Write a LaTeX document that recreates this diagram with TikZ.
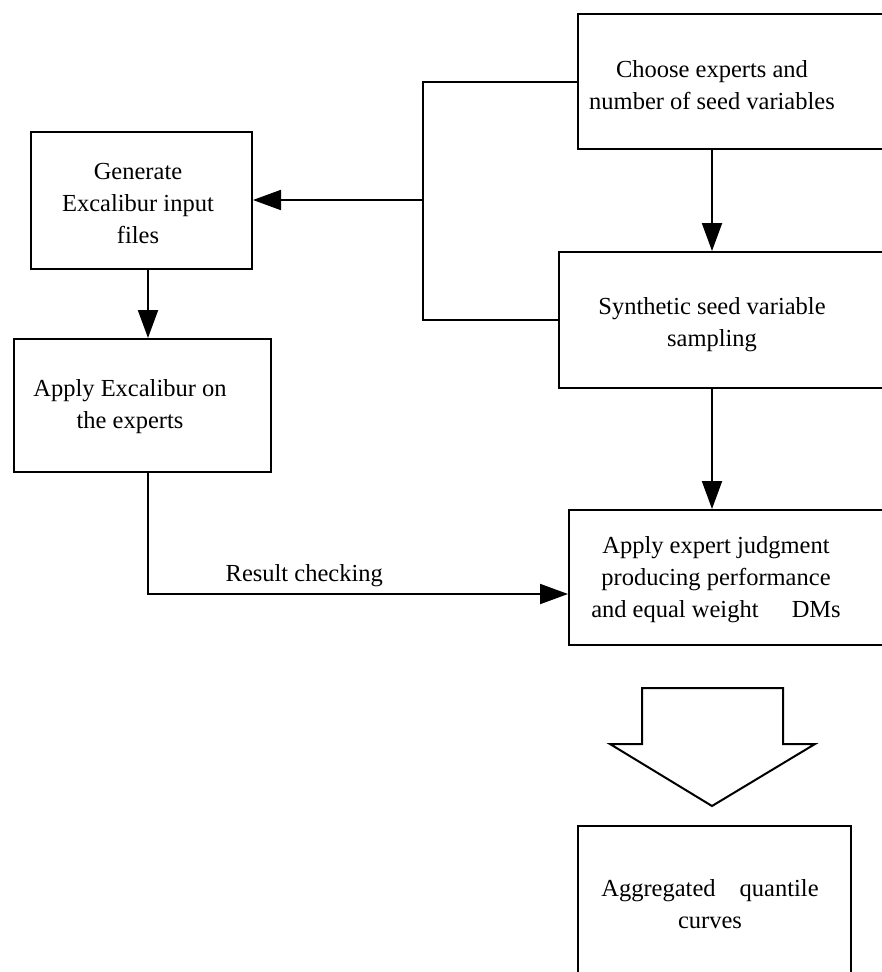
\documentclass[tikz,border=0pt]{standalone}
\usepackage{fontspec}
\setmainfont{Liberation Serif}
\usetikzlibrary{arrows.meta}

\tikzset{
	box/.style={draw, line width=2pt, anchor=north west, inner sep=0pt},
	txt/.style={align=center},
	link/.style={line width=2pt},
	flow/.style={line width=2pt, -{Triangle[length=28pt, width=20pt]}},
}

\begin{document}
\begin{tikzpicture}[x=1pt, y=-1pt, font=\fontsize{24.5}{32}\selectfont]
	\useasboundingbox (0, 0) rectangle (882, 972);
	\clip (0, 0) rectangle (882, 972);

	% boxes (right ones run past the page edge)
	\draw node[box, minimum width=350pt, minimum height=135pt] at (577, 13) (choose) {};
	\draw node[box, minimum width=221pt, minimum height=137pt] at (30, 131) (gen) {};
	\draw node[box, minimum width=370pt, minimum height=136pt] at (558, 251) (synth) {};
	\draw node[box, minimum width=257pt, minimum height=133pt] at (13, 338) (apply) {};
	\draw node[box, minimum width=360pt, minimum height=135pt] at (568, 509) (expert) {};
	\draw node[box, minimum width=273pt, minimum height=200pt] at (577, 825) (aggr) {};

	% texts
	\draw node[txt] at (712, 85) (choosetxt) {Choose experts and\\number of seed variables};
	\draw node[txt] at (138, 204) (gentxt) {Generate\\Excalibur input\\files};
	\draw node[txt] at (712, 325) (synthtxt) {Synthetic seed variable\\sampling};
	\draw node[txt] at (130, 407) (applytxt) {Apply Excalibur on\\the experts};
	\draw node[txt] at (716, 580) (experttxt) {Apply expert judgment\\producing performance\\and equal weight\hspace{27pt} DMs};
	\draw node[txt] at (710, 904) (aggrtxt) {Aggregated\hspace{18pt} quantile\\curves};

	\coordinate (jn) at (423, 200);
	\coordinate (col) at (712, 0);
	\coordinate (lcol) at (148, 0);

	\draw [link]   (choose.west) -| (jn) |- (synth.west);
	\draw [flow]   (jn) -- (gen.east |- jn);
	\draw [flow]   (choose.south -| col) -- (synth.north -| col);
	\draw [flow]   (synth.south -| col) -- (expert.north -| col);
	\draw [flow]   (gen.south -| lcol) -- (apply.north -| lcol);
	\draw [flow]   (apply.south -| lcol) |- ([yshift=-16.5pt]expert.west) node[pos=.686, above, yshift=3pt] (check) {Result checking};

	% big down arrow
	\draw [link]   (642, 688) -- (642, 744) -- (610, 744) -- (712, 806) -- (815, 744) -- (783, 744) -- (783, 688) -- cycle;
\end{tikzpicture}
\end{document}
